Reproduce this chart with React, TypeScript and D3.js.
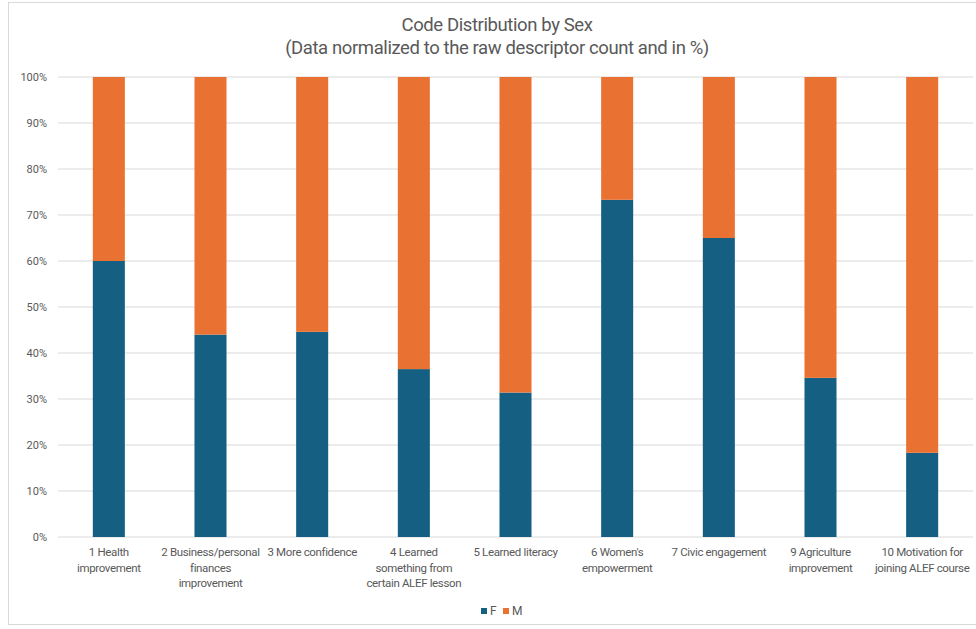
import React from "react";
import * as d3 from "d3";

const categories = [
  "1 Health improvement",
  "2 Business/personal finances improvement",
  "3 More confidence",
  "4 Learned something from certain ALEF lesson",
  "5 Learned literacy",
  "6 Women's empowerment",
  "7 Civic engagement",
  "9 Agriculture improvement",
  "10 Motivation for joining ALEF course",
];
const categoryLines = [
  ["1 Health", "improvement"],
  ["2 Business/personal", "finances", "improvement"],
  ["3 More confidence"],
  ["4 Learned", "something from", "certain ALEF lesson"],
  ["5 Learned literacy"],
  ["6 Women's", "empowerment"],
  ["7 Civic engagement"],
  ["9 Agriculture", "improvement"],
  ["10 Motivation for", "joining ALEF course"],
];
const femaleValues = [60.0, 44.0, 44.6, 36.5, 31.4, 73.3, 65.0, 34.6, 18.3];
const maleValues = femaleValues.map((v) => 100 - v);
const seriesNames = ["F", "M"];
const seriesColors = ["#156082", "#E97132"];
const yTicks = [0, 10, 20, 30, 40, 50, 60, 70, 80, 90, 100];
const titleLines = [
  "Code Distribution by Sex",
  "(Data normalized to the raw descriptor count and in %)",
];

export default function App() {
  const W = 976;
  const H = 629;
  const left = 58;
  const right = 973;
  const top = 77;
  const bottom = 537;
  const font = "Roboto, 'Open Sans', sans-serif";
  const textColor = "#595959";

  const x = d3.scaleBand<string>().domain(categories).range([left, right]).paddingInner(0.685).paddingOuter(0.3425);
  const y = d3.scaleLinear().domain([0, 100]).range([bottom, top]);

  const rows = categories.map((c, i) => ({ cat: c, F: femaleValues[i], M: maleValues[i] }));
  const stack = d3.stack<any>().keys(seriesNames)(rows);

  return (
    <svg width={W} height={H} style={{ position: "absolute", left: 0, top: 0, background: "#fff" }}>
      <rect x={8.5} y={2.5} width={W} height={622} fill="#fff" stroke="#d9d9d9" strokeWidth={1} />
      {titleLines.map((t, i) => (
        <text key={i} x={497} y={31 + i * 23} textAnchor="middle" fontFamily={font} fontSize={18.5} letterSpacing={-0.4} fill={textColor}>
          {t}
        </text>
      ))}
      {yTicks.map((t) => (
        <g key={t}>
          <line x1={left} x2={right} y1={y(t)} y2={y(t)} stroke="#d9d9d9" strokeWidth={1} />
          <text x={47} y={y(t) + 4} textAnchor="end" fontFamily={font} fontSize={11} fill={textColor}>
            {t}%
          </text>
        </g>
      ))}
      {stack.map((s, si) => (
        <g key={s.key}>
          {s.map((d, i) => (
            <rect
              key={i}
              x={x(categories[i])}
              width={x.bandwidth()}
              y={y(d[1])}
              height={y(d[0]) - y(d[1])}
              fill={seriesColors[si]}
            />
          ))}
        </g>
      ))}
      {categories.map((c, i) => (
        <text key={c} textAnchor="middle" fontFamily={font} fontSize={11.5} letterSpacing={-0.35} fill={textColor}>
          {categoryLines[i].map((l, j) => (
            <tspan key={j} x={(x(c) as number) + x.bandwidth() / 2} y={556 + j * 15.5}>
              {l}
            </tspan>
          ))}
        </text>
      ))}
      <g>
        <rect x={481} y={608} width={6} height={6} fill={seriesColors[0]} />
        <text x={490} y={614.5} fontFamily={font} fontSize={12} fill={textColor}>F</text>
        <rect x={503} y={608} width={6} height={6} fill={seriesColors[1]} />
        <text x={512} y={614.5} fontFamily={font} fontSize={12} fill={textColor}>M</text>
      </g>
    </svg>
  );
}
